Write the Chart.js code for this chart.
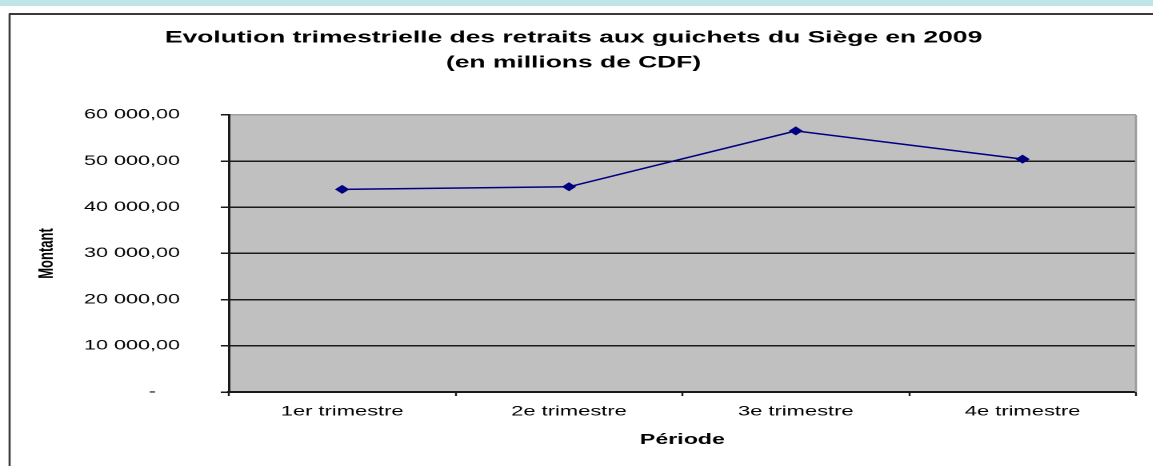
<!DOCTYPE html>
<html>
<head>
<meta charset="utf-8">
<title>Retraits aux guichets du Siège en 2009</title>
<script src="https://cdn.jsdelivr.net/npm/chart.js@4.4.1/dist/chart.umd.min.js"></script>
<style>
body{margin:0;background:#fff;overflow:hidden;}
/* le graphique d'origine est etire horizontalement */
#cadre{width:721px;height:466px;transform:scaleX(1.6);transform-origin:0 0;}
</style>
</head>
<body>
<div id="cadre"><canvas id="graficoRetraits" width="721" height="466"></canvas></div>
<script>
// ======================================
// DONNEES
// ======================================

const trimestres = ["1er trimestre", "2e trimestre", "3e trimestre", "4e trimestre"];
const retraits = [43900, 44450, 56550, 50450];
const graduations = [0, 10000, 20000, 30000, 40000, 50000, 60000];


// ======================================
// FORMAT DES MONTANTS (60 000,00)
// ======================================

function formatMontant(v){
if (v === 0) return "-    ";
const txt = String(Math.round(v)).replace(/\B(?=(\d{3})+(?!\d))/g, " ");
return txt + ",00";
}


// ======================================
// FOND, CADRE ET ZONE GRISE
// ======================================

const fond = {
id: "fond",
beforeDraw(chart){
const {ctx, chartArea: a, width, height} = chart;
ctx.save();
ctx.fillStyle = "#bfe4e8";
ctx.fillRect(0, 0, width, 6);

ctx.strokeStyle = "#3a3a3a";
ctx.lineWidth = 2;
ctx.beginPath();
ctx.moveTo(width, 14);
ctx.lineTo(5.5, 14);
ctx.stroke();
ctx.lineWidth = 1.3;
ctx.beginPath();
ctx.moveTo(6, 14);
ctx.lineTo(6, height);
ctx.stroke();

ctx.fillStyle = "#c0c0c0";
ctx.fillRect(a.left, a.top, a.right - a.left, a.bottom - a.top);
ctx.restore();
},
beforeDatasetsDraw(chart){
const {ctx, chartArea: a} = chart;
ctx.save();
ctx.strokeStyle = "#9a9a9a";
ctx.lineWidth = 1.3;
ctx.beginPath();
ctx.moveTo(a.right, a.top);
ctx.lineTo(a.right, a.bottom);
ctx.stroke();
ctx.restore();
}
};


// ======================================
// GRAPHIQUE
// ======================================

Chart.defaults.font.family = '"Liberation Sans", Arial, sans-serif';

new Chart(document.getElementById("graficoRetraits"), {

type: "line",

data: {
labels: trimestres,
datasets: [{
label: "Montant",
data: retraits,
borderColor: "#000080",
borderWidth: 1.5,
pointStyle: "rectRot",
pointRadius: 3.8,
pointBackgroundColor: "#000080",
pointBorderColor: "#000080",
pointBorderWidth: 1,
tension: 0,
clip: false
}]
},

plugins: [fond],

options: {
responsive: false,
animation: false,
devicePixelRatio: 2,
layout: { padding: { left: 7, right: 11, top: 14, bottom: 0 } },
plugins: {
legend: { display: false },
tooltip: { enabled: false },
title: {
display: true,
text: ["Evolution trimestrielle des retraits aux guichets du Siège en 2009", "(en millions de CDF)"],
color: "#000",
font: { size: 16.5, weight: "bold", lineHeight: 1.515 },
padding: { top: 11.5, bottom: 39.5 }
}
},
scales: {
x: {
type: "category",
offset: true,
grid: { offset: true, drawOnChartArea: false, drawTicks: true, tickLength: 4, tickColor: "#1a1a1a", tickWidth: 1.2 },
border: { color: "#1a1a1a", width: 2 },
ticks: { color: "#000", font: { size: 13.7 }, padding: 7.5, maxRotation: 0, autoSkip: false },
title: { display: true, text: "Période", color: "#000", font: { size: 14.5, weight: "bold" }, padding: { top: 0, bottom: 17.3 } },
afterFit(s){ s.height = 74; }
},
y: {
min: 0,
max: 60000,
ticks: { stepSize: 10000, color: "#000", font: { size: 13.5 }, padding: 25.5, callback: v => formatMontant(v) },
afterBuildTicks(s){ s.ticks = graduations.map(v => ({ value: v })); },
grid: {
color: c => (c.tick && c.tick.value === 60000) ? "#a0a0a0" : "#1a1a1a",
lineWidth: 1.5,
tickColor: "#1a1a1a",
tickLength: 5,
tickWidth: 1.5
},
border: { color: "#1a1a1a", width: 1.5 },
title: { display: true, text: "Montant", color: "#000", font: { size: 13, weight: "bold" }, padding: { top: 14.6, bottom: 0 } },
afterFit(s){ s.width = 136; }
}
}
}

});
</script>
</body>
</html>
